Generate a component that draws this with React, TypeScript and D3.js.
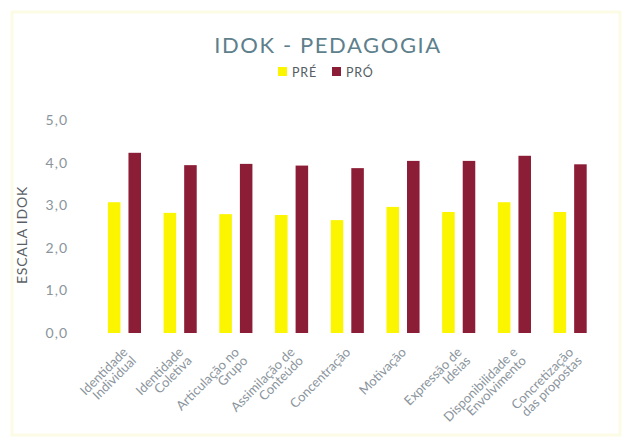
import { useRef, useEffect } from 'react'
import { select, scaleBand, scaleLinear, format } from 'd3'

const categories = [
  ['Identidade', 'Individual'],
  ['Identidade', 'Coletiva'],
  ['Articulação no', 'Grupo'],
  ['Assimilação de', 'Conteúdo'],
  ['Concentração'],
  ['Motivação'],
  ['Expressão de', 'Ideias'],
  ['Disponibilidade e', 'Envolvimento'],
  ['Concretização', 'das propostas'],
]
const series = ['PRÉ', 'PRÓ']
const preValues = [3.07, 2.82, 2.79, 2.77, 2.65, 2.96, 2.84, 3.07, 2.84]
const proValues = [4.23, 3.94, 3.97, 3.93, 3.87, 4.04, 4.04, 4.16, 3.96]
const yTicks = [0, 1, 2, 3, 4, 5]

const colors = { 'PRÉ': '#fbf500', 'PRÓ': '#8c1d36' }
const textGray = '#8a949c'

const App = () => {
  const svgRef = useRef(null)

  useEffect(() => {
    const svg = select(svgRef.current)
    svg.selectAll('*').remove()

    const width = 632
    const height = 447

    // faint cream frame
    svg
      .append('rect')
      .attr('x', 12)
      .attr('y', 12)
      .attr('width', width - 24)
      .attr('height', height - 24)
      .attr('fill', '#fff')
      .attr('stroke', '#fbfbe6')
      .attr('stroke-width', 3)

    const names = categories.map((c) => c.join(' '))

    const xScale = scaleBand().domain(names).range([96.6, 598]).padding(0)
    const xInner = scaleBand()
      .domain(series)
      .range([0, xScale.bandwidth()])
      .paddingInner(0.39)
      .paddingOuter(0.55)
    const yScale = scaleLinear().domain([0, 5]).range([333, 120])

    // title
    svg
      .append('text')
      .attr('x', 328)
      .attr('y', 53)
      .attr('text-anchor', 'middle')
      .attr('font-family', 'Lato')
      .attr('font-size', 22)
      .attr('letter-spacing', 1.6)
      .attr('fill', '#5e7f8c')
      .text('IDOK - PEDAGOGIA')

    // legend
    const legend = svg.append('g').attr('font-family', 'Lato').attr('font-size', 12.5)
    const legendX = { 'PRÉ': 278, 'PRÓ': 332 }
    series.forEach((s) => {
      legend
        .append('rect')
        .attr('x', legendX[s])
        .attr('y', 67)
        .attr('width', 9)
        .attr('height', 9)
        .attr('fill', colors[s])
      legend
        .append('text')
        .attr('x', legendX[s] + 14)
        .attr('y', 76.5)
        .attr('letter-spacing', 0.8)
        .attr('fill', '#555d63')
        .text(s)
    })

    // y axis labels
    const fmt = format('.1f')
    svg
      .append('g')
      .selectAll('text')
      .data(yTicks)
      .join('text')
      .attr('x', 68)
      .attr('y', (d) => yScale(d))
      .attr('dy', '0.35em')
      .attr('text-anchor', 'end')
      .attr('font-family', 'Lato')
      .attr('font-size', 14)
      .attr('letter-spacing', 1)
      .attr('fill', textGray)
      .text((d) => fmt(d).replace('.', ','))

    svg
      .append('text')
      .attr('transform', 'translate(27, 235) rotate(-90)')
      .attr('text-anchor', 'middle')
      .attr('font-family', 'Lato')
      .attr('font-size', 14)
      .attr('letter-spacing', 0.8)
      .attr('fill', '#5a6166')
      .text('ESCALA IDOK')

    // bars
    const rows = names.map((n, i) => ({ name: n, 'PRÉ': preValues[i], 'PRÓ': proValues[i] }))
    const groups = svg
      .append('g')
      .selectAll('g')
      .data(rows)
      .join('g')
      .attr('transform', (d) => `translate(${xScale(d.name)},0)`)

    groups
      .selectAll('rect')
      .data((d) => series.map((s) => ({ key: s, value: d[s] })))
      .join('rect')
      .attr('x', (d) => xInner(d.key))
      .attr('y', (d) => yScale(d.value))
      .attr('width', xInner.bandwidth())
      .attr('height', (d) => yScale(0) - yScale(d.value))
      .attr('fill', (d) => colors[d.key])

    // x labels
    const labels = svg
      .append('g')
      .selectAll('text')
      .data(categories)
      .join('text')
      .attr('transform', (d, i) => {
        const cx = xScale(names[i]) + xScale.bandwidth() / 2
        return `translate(${cx + 4}, 353) rotate(-45)`
      })
      .attr('text-anchor', 'end')
      .attr('font-family', 'Lato')
      .attr('font-size', 13)
      .attr('fill', textGray)

    labels
      .selectAll('tspan')
      .data((d) => d)
      .join('tspan')
      .attr('x', 0)
      .attr('y', (d, i) => i * 12)
      .text((d) => d)
  }, [])

  return (
    <div>
      <svg
        ref={svgRef}
        width="632"
        height="447"
        style={{ position: 'absolute', left: 0, top: 0, background: '#fff' }}
      ></svg>
    </div>
  )
}

export default App
